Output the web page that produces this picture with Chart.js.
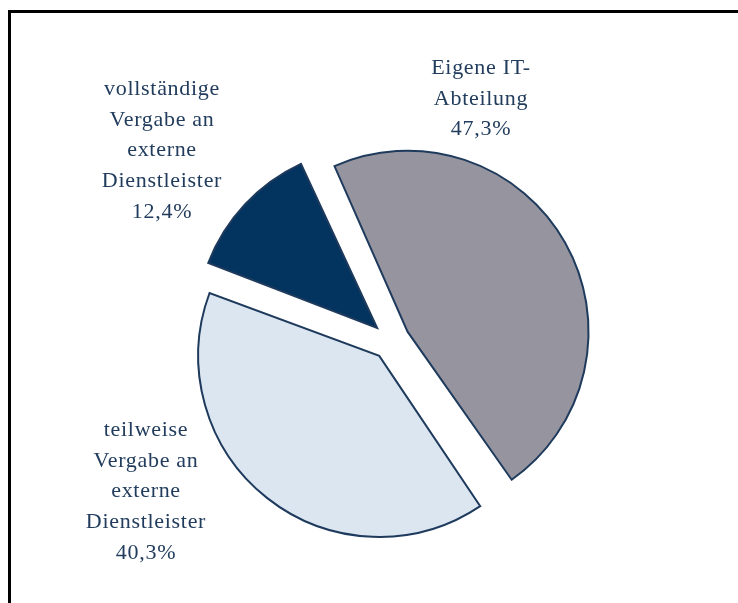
<!DOCTYPE html>
<html>
<head>
<meta charset="utf-8">
<script src="https://cdn.jsdelivr.net/npm/chart.js@4.4.1/dist/chart.umd.min.js"></script>
<style>
  html, body { margin: 0; padding: 0; background: #fff; }
  #wrap { position: relative; width: 738px; height: 603px; overflow: hidden; }
  #frame {
    position: absolute; left: 8px; top: 10px; width: 800px; height: 700px;
    border-top: 3px solid #000; border-left: 3px solid #000;
  }
  canvas { position: absolute; left: 0; top: 0; }
</style>
</head>
<body>
<div id="wrap">
  <div id="frame"></div>
  <canvas id="chart" width="738" height="603"></canvas>
</div>
<script>
// Data
const categories = [
  ["Eigene IT-", "Abteilung"],
  ["teilweise", "Vergabe an", "externe", "Dienstleister"],
  ["vollständige", "Vergabe an", "externe", "Dienstleister"],
];
const shares = [47.3, 40.3, 12.4];

// Colors
const fillColors = ["#96959f", "#dce6f1", "#03335f"];
const lineColor = "#1e3a5c";
const textColor = "#213c5c";

// label anchors (center x, first line y)
const labelPos = [
  [481, 68],
  [146, 430],
  [162, 89],
];

// every slice is pushed out by the same distance
const explode = 19;
const pieRadius = 181;
const total = shares.reduce((a, b) => a + b, 0);

// chart.js moves an arc by offset/4 and also grows its radius by
// (offset/4) * (1 - sin(circumference)); undo the growth per arc
const equalRadius = {
  id: "equalRadius",
  afterDatasetsUpdate(chart) {
    const meta = chart.getDatasetMeta(0);
    meta.data.forEach((arc, i) => {
      const circ = (shares[i] / total) * 2 * Math.PI;
      const fix = 1 - Math.sin(Math.min(Math.PI, circ));
      arc.outerRadius = pieRadius - explode * fix;
    });
  },
};

const fmt = (v) => v.toFixed(1).replace(".", ",") + "%";

const outsideLabels = {
  id: "outsideLabels",
  afterDraw(chart) {
    const ctx = chart.ctx;
    ctx.save();
    ctx.fillStyle = textColor;
    ctx.font = '22px "Liberation Serif", "Times New Roman", serif';
    ctx.letterSpacing = "0.7px";
    ctx.textAlign = "center";
    ctx.textBaseline = "middle";
    categories.forEach((lines, i) => {
      const [x, y] = labelPos[i];
      const all = lines.concat([fmt(shares[i])]);
      all.forEach((line, j) => {
        ctx.fillText(line, x, y + j * 30.8);
      });
    });
    ctx.restore();
  },
};

new Chart(document.getElementById("chart"), {
  type: "pie",
  data: {
    labels: categories.map((c) => c.join(" ")),
    datasets: [
      {
        data: shares,
        backgroundColor: fillColors,
        borderColor: lineColor,
        borderWidth: 2,
        borderJoinStyle: "miter",
        offset: explode * 4,
      },
    ],
  },
  options: {
    responsive: false,
    animation: false,
    rotation: -24.6,
    radius: pieRadius,
    layout: {
      padding: { left: 44, right: 0, top: 79, bottom: 0 },
    },
    plugins: {
      legend: { display: false },
      tooltip: { enabled: false },
    },
  },
  plugins: [equalRadius, outsideLabels],
});
</script>
</body>
</html>
